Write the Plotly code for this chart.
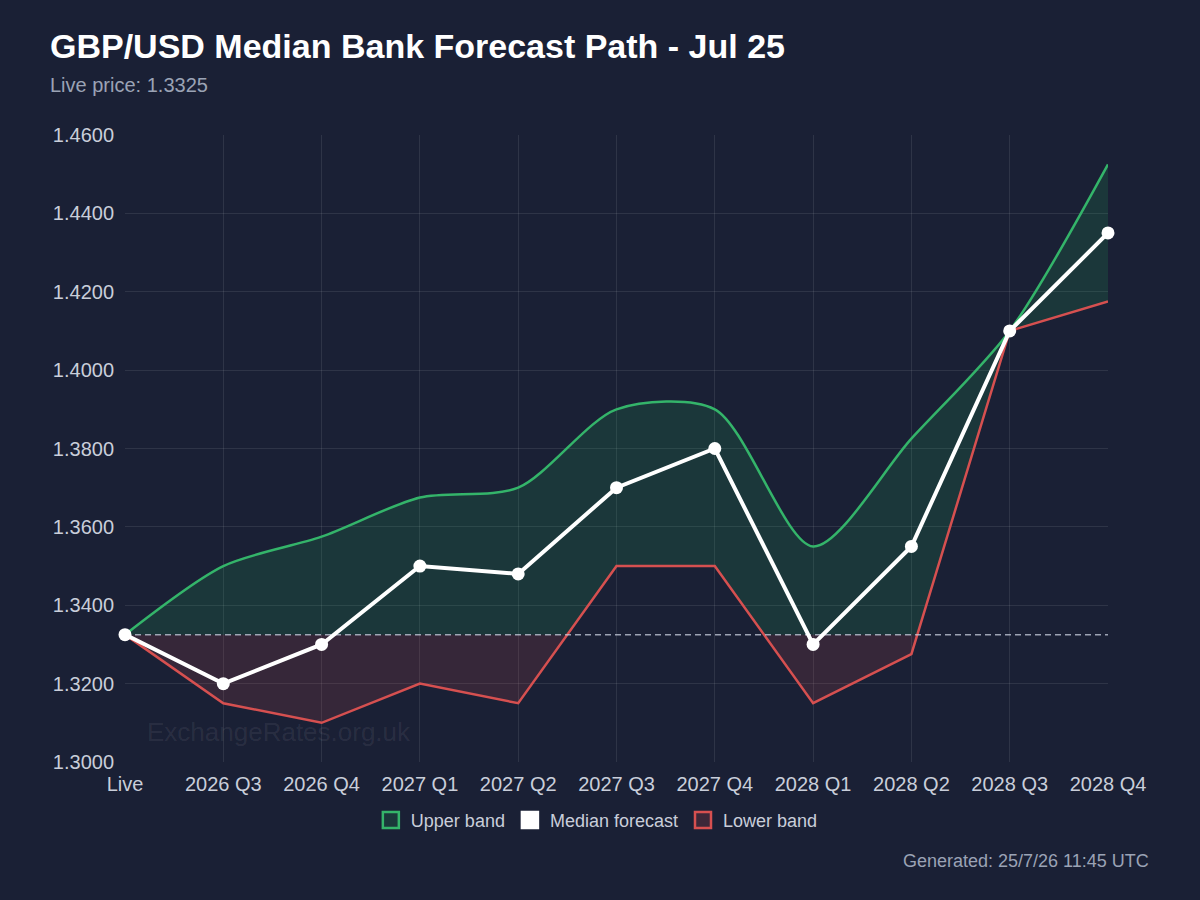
import plotly.graph_objects as go

# ---- data ----
categories = ["Live", "2026 Q3", "2026 Q4", "2027 Q1", "2027 Q2", "2027 Q3",
              "2027 Q4", "2028 Q1", "2028 Q2", "2028 Q3", "2028 Q4"]
upper_band = [1.3325, 1.3500, 1.3575, 1.3675, 1.3700, 1.3900, 1.3900,
              1.3550, 1.3825, 1.4100, 1.4525]
median_forecast = [1.3325, 1.3200, 1.3300, 1.3500, 1.3480, 1.3700, 1.3800,
                   1.3300, 1.3550, 1.4100, 1.4350]
lower_band = [1.3325, 1.3150, 1.3100, 1.3200, 1.3150, 1.3500, 1.3500,
              1.3150, 1.3275, 1.4100, 1.4175]
live_price = 1.3325
y_ticks = [1.30, 1.32, 1.34, 1.36, 1.38, 1.40, 1.42, 1.44, 1.46]

BG = "#1a2035"
GREEN = "#34b46a"
RED = "#d65050"
GREEN_FILL = "rgba(34,197,94,0.14)"
RED_FILL = "rgba(217,79,79,0.15)"
FONT = "Liberation Sans, Arial, sans-serif"

xs = list(range(len(categories)))


def split_at(xv, yv, level):
    ox, oy = [xv[0]], [yv[0]]
    for i in range(1, len(xv)):
        a, b = yv[i - 1] - level, yv[i] - level
        if a * b < 0:
            t = a / (a - b)
            ox.append(xv[i - 1] + t * (xv[i] - xv[i - 1]))
            oy.append(level)
        ox.append(xv[i])
        oy.append(yv[i])
    return ox, oy


sx, sy = split_at(xs, lower_band, live_price)
base_hi = [max(v, live_price) for v in sy]
base_lo = [min(v, live_price) for v in sy]
level = [live_price] * len(sx)

fig = go.Figure()

# green fill: from max(lower, live) up to upper band (spline)
fig.add_trace(go.Scatter(x=sx, y=base_hi, mode="lines", line=dict(width=0),
                         showlegend=False, hoverinfo="skip"))
fig.add_trace(go.Scatter(x=xs, y=upper_band, mode="lines", fill="tonexty",
                         fillcolor=GREEN_FILL,
                         line=dict(color=GREEN, width=2.5, shape="spline", smoothing=0.8),
                         showlegend=False, name="Upper band"))
# red fill: from min(lower, live) up to live price
fig.add_trace(go.Scatter(x=sx, y=level, mode="lines", line=dict(width=0),
                         showlegend=False, hoverinfo="skip"))
fig.add_trace(go.Scatter(x=sx, y=base_lo, mode="lines", fill="tonexty",
                         fillcolor=RED_FILL, line=dict(width=0),
                         showlegend=False, hoverinfo="skip"))
# lower line
fig.add_trace(go.Scatter(x=xs, y=lower_band, mode="lines",
                         line=dict(color=RED, width=2.5),
                         showlegend=False, name="Lower band"))
# live price dashed line
fig.add_trace(go.Scatter(x=[xs[0], xs[-1]], y=[live_price, live_price], mode="lines",
                         line=dict(color="rgba(200,206,222,0.75)", width=1.5, dash="6px,4px"),
                         showlegend=False, hoverinfo="skip"))
# median
fig.add_trace(go.Scatter(x=xs, y=median_forecast, mode="lines+markers",
                         line=dict(color="#ffffff", width=4),
                         marker=dict(color="#ffffff", size=13),
                         cliponaxis=False, showlegend=False, name="Median forecast"))

# legend entries
for name, fillc, linec in [("Upper band", "rgba(34,197,94,0.15)", GREEN),
                           ("Median forecast", "#ffffff", "#ffffff"),
                           ("Lower band", "rgba(217,79,79,0.18)", RED)]:
    fig.add_trace(go.Scatter(x=[None], y=[None], mode="markers", name=name,
                             marker=dict(symbol="square", size=17, color=fillc,
                                         line=dict(color=linec, width=2.5))))

fig.update_layout(
    width=1200, height=900,
    paper_bgcolor=BG, plot_bgcolor=BG,
    margin=dict(l=125, r=92, t=135, b=138),
    font=dict(family=FONT, color="#c9ceda", size=20),
    title=dict(text="<b>GBP/USD Median Bank Forecast Path - Jul 25</b>",
               x=50 / 1200, xanchor="left", xref="container",
               y=1 - 46 / 900, yanchor="middle", yref="container",
               font=dict(size=34, color="#ffffff", family=FONT)),
    showlegend=True,
    legend=dict(orientation="h", x=0.48, xanchor="center", y=-0.093, yanchor="middle",
                font=dict(size=18, color="#c9ceda"), bgcolor="rgba(0,0,0,0)",
                itemwidth=30, tracegroupgap=0, traceorder="normal"),
    xaxis=dict(range=[0, len(categories) - 1], tickmode="array", tickvals=xs,
               ticktext=categories, showgrid=True, gridcolor="rgba(255,255,255,0.09)",
               zeroline=False, showline=False, ticks="", ticklabelstandoff=8,
               tickfont=dict(size=20, color="#c9ceda")),
    yaxis=dict(range=[y_ticks[0], y_ticks[-1]], tickmode="array", tickvals=y_ticks,
               tickformat=".4f", showgrid=True, gridcolor="rgba(255,255,255,0.09)",
               zeroline=False, showline=False, ticks="", ticklabelstandoff=10,
               tickfont=dict(size=20, color="#c9ceda")),
    annotations=[
        dict(text="Live price: 1.3325", xref="paper", yref="paper",
             x=(48 - 125) / 983, y=(762 - 85) / 627, xanchor="left", yanchor="middle",
             showarrow=False, font=dict(size=20, color="#9ba3b5")),
        dict(text="Generated: 25/7/26 11:45 UTC", xref="paper", yref="paper",
             x=(1151 - 125) / 983, y=(762 - 861) / 627, xanchor="right", yanchor="middle",
             showarrow=False, font=dict(size=18, color="#9ba3b5")),
        dict(text="ExchangeRates.org.uk", xref="paper", yref="paper",
             x=(279 - 125) / 983, y=(762 - 732) / 627, xanchor="center", yanchor="middle",
             showarrow=False, font=dict(size=26, color="rgba(255,255,255,0.08)")),
    ],
)

fig.write_html("out.html")
